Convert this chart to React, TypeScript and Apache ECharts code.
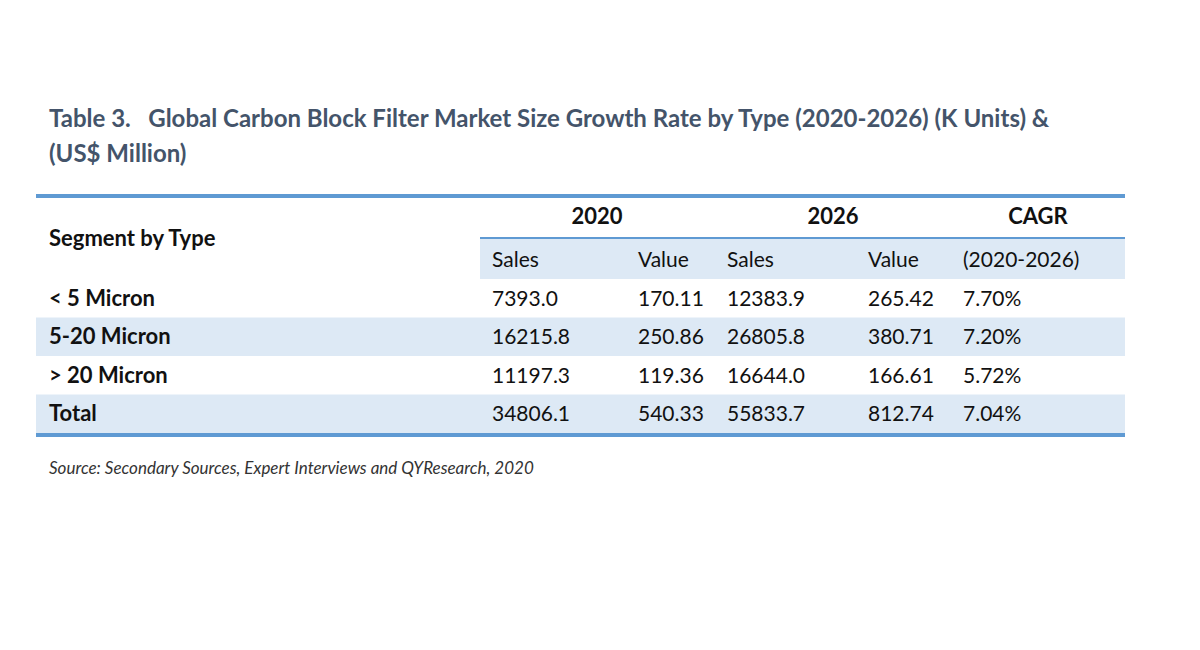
import React, { useEffect, useRef } from "react";
import * as echarts from "echarts";

const titleLines = [
  "Table 3.   Global Carbon Block Filter Market Size Growth Rate by Type (2020-2026) (K Units) &",
  "(US$ Million)",
];
const yearHeaders = ["2020", "2026", "CAGR"];
const subHeaders = ["Sales", "Value", "Sales", "Value", "(2020-2026)"];
const segments = ["< 5 Micron", "5-20 Micron", "> 20 Micron", "Total"];
const sales2020 = ["7393.0", "16215.8", "11197.3", "34806.1"];
const value2020 = ["170.11", "250.86", "119.36", "540.33"];
const sales2026 = ["12383.9", "26805.8", "16644.0", "55833.7"];
const value2026 = ["265.42", "380.71", "166.61", "812.74"];
const cagr = ["7.70%", "7.20%", "5.72%", "7.04%"];
const source = "Source: Secondary Sources, Expert Interviews and QYResearch, 2020";

const FONT = "Lato, 'Open Sans', sans-serif";
const BLUE = "#5f9ad3";
const BAND = "#dde9f5";
const TEXT = "#111111";

export default function App() {
  const ref = useRef<HTMLDivElement>(null);
  useEffect(() => {
    if (!ref.current) return;
    const chart = echarts.init(ref.current, undefined, { renderer: "svg" });
    const L = 36, R = 1125;
    const colX = [492, 638, 727, 868, 963];
    const yearX = [597, 833, 1038];
    const rowTop = 279, rowH = 38.5;
    const els: any[] = [];
    titleLines.forEach((t, i) => {
      els.push({
        type: "text", x: 49, y: 117 + i * 35,
        style: { text: t, font: `bold 24px ${FONT}`, fill: "#44546a", textVerticalAlign: "middle" },
      });
    });
    els.push({ type: "rect", shape: { x: 480, y: 239, width: R - 480, height: 40 }, style: { fill: BAND } });
    segments.forEach((_, i) => {
      if (i % 2 === 1) {
        els.push({ type: "rect", shape: { x: L, y: rowTop + i * rowH, width: R - L, height: rowH }, style: { fill: BAND } });
      }
    });
    els.push({ type: "rect", shape: { x: L, y: 194, width: R - L, height: 4 }, style: { fill: BLUE } });
    els.push({ type: "rect", shape: { x: 480, y: 237, width: R - 480, height: 2 }, style: { fill: BLUE } });
    els.push({ type: "rect", shape: { x: L, y: rowTop + segments.length * rowH, width: R - L, height: 4 }, style: { fill: BLUE } });
    els.push({ type: "text", x: 49, y: 237, style: { text: "Segment by Type", font: `bold 22px ${FONT}`, fill: TEXT, textVerticalAlign: "middle" } });
    yearHeaders.forEach((t, i) => {
      els.push({ type: "text", x: yearX[i], y: 215, style: { text: t, font: `bold 22px ${FONT}`, fill: TEXT, textAlign: "center", textVerticalAlign: "middle" } });
    });
    subHeaders.forEach((t, i) => {
      els.push({ type: "text", x: colX[i], y: 258, style: { text: t, font: `21px ${FONT}`, fill: TEXT, textVerticalAlign: "middle" } });
    });
    const cols = [sales2020, value2020, sales2026, value2026, cagr];
    segments.forEach((s, i) => {
      const cy = rowTop + i * rowH + rowH / 2 - 1;
      els.push({ type: "text", x: 49, y: cy, style: { text: s, font: `bold 22px ${FONT}`, fill: TEXT, textVerticalAlign: "middle" } });
      cols.forEach((c, j) => {
        els.push({ type: "text", x: colX[j], y: cy, style: { text: c[i], font: `21px ${FONT}`, fill: TEXT, textVerticalAlign: "middle" } });
      });
    });
    els.push({ type: "text", x: 49, y: 467, style: { text: source, font: `italic 17px ${FONT}`, fill: "#333333", textVerticalAlign: "middle" } });

    chart.setOption({ animation: false, graphic: { elements: els } });
    return () => chart.dispose();
  }, []);
  return <div ref={ref} style={{ position: "fixed", left: 0, top: 0, width: 1200, height: 650, background: "#fff" }} />;
}
